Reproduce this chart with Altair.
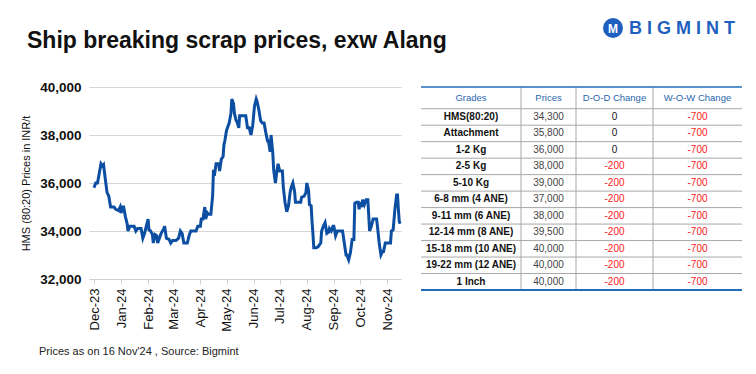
import altair as alt
import pandas as pd

# ---------------- data ----------------
# days since 1 Dec 2023, HMS (80:20) price INR/t
day_offsets = [0, 2, 4, 6, 8, 10, 11, 13, 15, 17, 19, 23, 25, 28, 30, 31, 33, 34, 36, 38,
               39, 41, 44, 46, 48, 50, 54, 56, 58, 60, 62, 63, 65, 67, 68, 70, 72, 73, 75, 77,
               80, 81, 83, 86, 88, 90, 94, 97, 99, 101, 103, 107, 109, 111, 117, 119, 122, 123, 125, 127,
               128, 130, 131, 134, 136, 137, 138, 140, 143, 144, 146, 148, 149, 150, 152, 153, 155, 157, 158, 160,
               161, 163, 164, 166, 167, 170, 174, 176, 178, 180, 182, 184, 186, 187, 189, 191, 193, 195, 197, 199,
               200, 202, 203, 205, 206, 208, 209, 211, 213, 216, 217, 219, 221, 223, 225, 226, 228, 230, 231, 234,
               237, 238, 241, 243, 244, 246, 247, 249, 250, 251, 252, 255, 257, 260, 261, 263, 265, 267, 269, 270,
               272, 274, 275, 277, 279, 282, 285, 287, 289, 290, 292, 294, 296, 298, 299, 301, 303, 304, 305, 307,
               308, 310, 312, 314, 316, 318, 320, 324, 325, 327, 329, 331, 332, 334, 340, 341, 343, 345, 347, 348,
               349, 350, 351]
hms_prices = [35800, 36000, 36000, 36400, 36800, 36700, 36750, 36150, 35600, 35450, 35000, 35000, 34900, 34850, 35000, 34750, 35000, 35000, 34600, 34300,
              34000, 34200, 34200, 34200, 34000, 34100, 34100, 33700, 33900, 34200, 34500, 34050, 34000, 33850, 33500, 33850, 33800, 33500, 33700, 33900,
              34100, 34200, 33700, 33650, 33500, 33600, 33600, 33700, 34000, 33900, 33500, 33500, 33800, 34000, 34000, 34200, 34200, 34500, 34500, 35000,
              34500, 34750, 34700, 34700, 35450, 36550, 36300, 36800, 36800, 36500, 37000, 37100, 37600, 37750, 38200, 38300, 38500, 38900, 39500, 39300,
              38900, 38600, 38550, 38300, 38800, 38800, 38800, 38300, 38300, 38000, 38400, 39200, 39500, 39400, 39050, 38600, 38500, 38500, 38100, 37750,
              37750, 37300, 38000, 37250, 36550, 36000, 36300, 36800, 36500, 36500, 35850, 35200, 34800, 35050, 35650, 35800, 36000, 35650, 35200, 35200,
              35200, 35400, 35450, 35600, 36000, 35700, 35100, 35050, 34400, 33900, 33300, 33300, 33350, 33500, 34000, 34200, 34350, 33900, 33950, 34100,
              34000, 34200, 34200, 33800, 34000, 34000, 34000, 33500, 33000, 33000, 32800, 33100, 33650, 33650, 35150, 35200, 35200, 34900, 35200, 35000,
              35300, 35100, 35300, 35300, 34000, 34200, 34500, 34500, 34200, 33500, 33000, 33150, 33150, 33500, 33500, 34000, 34050, 34900, 35500, 35500,
              34900, 34400, 34300]

grades = ["HMS(80:20)", "Attachment", "1-2 Kg", "2-5 Kg", "5-10 Kg", "6-8 mm (4 ANE)",
          "9-11 mm (6 ANE)", "12-14 mm (8 ANE)", "15-18 mm (10 ANE)", "19-22 mm (12 ANE)", "1 Inch"]
grade_prices = [34300, 35800, 36000, 38000, 39000, 37000, 38000, 39500, 40000, 40000, 40000]
dod_change = [0, 0, 0, -200, -200, -200, -200, -200, -200, -200, -200]
wow_change = [-700] * 11
table_headers = ["Grades", "Prices", "D-O-D Change", "W-O-W Change"]

y_ticks = [32000, 34000, 36000, 38000, 40000]
title_text = "Ship breaking scrap prices, exw Alang"
y_title = "HMS (80:20) Prices in INR/t"
footnote = "Prices as on 16 Nov'24 , Source: Bigmint"

# ---------------- layout / style ----------------
FONT = "Liberation Sans"
BLUE_LINE = "#0b4ea2"
PLOT_W, PLOT_H = 307, 192
TAB_W, TAB_H = 321, 203
col_edges = [0, 100, 155, 232, 321]
HEADER_H = 21.7
ROW_H = (TAB_H - HEADER_H) / len(grades)

df = pd.DataFrame({
    "date": pd.Timestamp("2023-12-01") + pd.to_timedelta(day_offsets, unit="D"),
    "price": hms_prices,
})

month_ticks = [alt.DateTime(year=2023, month=12, date=1)] + [
    alt.DateTime(year=2024, month=m, date=1) for m in range(1, 12)
]

line = alt.Chart(df).mark_line(color=BLUE_LINE, strokeWidth=3).encode(
    x=alt.X("date:T",
            scale=alt.Scale(domain=[alt.DateTime(year=2023, month=12, date=1),
                                    alt.DateTime(year=2024, month=11, date=17)]),
            axis=alt.Axis(title=None, format="%b-%y", values=month_ticks, labelAngle=-90,
                          labelAlign="right", labelBaseline="middle", labelFontSize=13,
                          labelColor="#111", labelPadding=4, tickSize=5, tickColor="#d0d0d0",
                          domainColor="#d0d0d0", grid=False, labelFont=FONT)),
    y=alt.Y("price:Q", scale=alt.Scale(domain=[32000, 40000], nice=False, zero=False),
            axis=alt.Axis(title=y_title, values=y_ticks, format=",.0f", labelFontSize=13.5,
                          labelFontWeight="bold", labelColor="#111", labelPadding=8,
                          tickSize=5, tickColor="#d0d0d0", domain=False, gridColor="#d6d6d6",
                          titleFontSize=11, titleFontWeight="normal", titleColor="#111",
                          titlePadding=8, labelFont=FONT, titleFont=FONT)),
)

title_layer = alt.Chart(pd.DataFrame({"t": [title_text]})).mark_text(
    align="left", baseline="alphabetic", fontSize=23, fontWeight="bold", color="#111", font=FONT
).encode(x=alt.value(28 - 95), y=alt.value(48 - 87), text="t:N")

foot_layer = alt.Chart(pd.DataFrame({"t": [footnote]})).mark_text(
    align="left", baseline="middle", fontSize=11, color="#222", font=FONT
).encode(x=alt.value(40 - 95), y=alt.value(352 - 87), text="t:N")

left = alt.layer(line, title_layer, foot_layer).properties(width=PLOT_W, height=PLOT_H)

# ---------------- table ----------------
centers = [(col_edges[i] + col_edges[i + 1]) / 2 for i in range(4)]
row_y = [HEADER_H + (i + 0.5) * ROW_H for i in range(len(grades))]

cells = pd.DataFrame({
    "grade": grades,
    "price": [f"{p:,}" for p in grade_prices],
    "dod": dod_change,
    "wow": wow_change,
    "dod_t": [str(v) for v in dod_change],
    "wow_t": [str(v) for v in wow_change],
    "y": row_y,
})
head = pd.DataFrame({"h": table_headers, "x": centers, "y": [HEADER_H / 2] * 4})

xs = alt.Scale(domain=[0, TAB_W], nice=False, zero=False)
ys = alt.Scale(domain=[0, TAB_H], nice=False, zero=False, reverse=True)

def X(field):
    return alt.X(field, scale=xs, axis=None)

def Y(field):
    return alt.Y(field, scale=ys, axis=None)

header_txt = alt.Chart(head).mark_text(fontSize=9.5, color="#2a66ad", font=FONT).encode(
    x=X("x:Q"), y=Y("y:Q"), text="h:N")
grade_txt = alt.Chart(cells).mark_text(fontSize=10, fontWeight="bold", color="#111", font=FONT).encode(
    x=alt.datum(centers[0], scale=xs, axis=None), y=Y("y:Q"), text="grade:N")
price_txt = alt.Chart(cells).mark_text(fontSize=10, color="#444", font=FONT).encode(
    x=alt.datum(centers[1], scale=xs, axis=None), y=Y("y:Q"), text="price:N")
dod_txt = alt.Chart(cells).mark_text(fontSize=10, font=FONT).encode(
    x=alt.datum(centers[2], scale=xs, axis=None), y=Y("y:Q"), text="dod_t:N",
    color=alt.condition("datum.dod < 0", alt.value("#ff2020"), alt.value("#111")))
wow_txt = alt.Chart(cells).mark_text(fontSize=10, font=FONT).encode(
    x=alt.datum(centers[3], scale=xs, axis=None), y=Y("y:Q"), text="wow_t:N",
    color=alt.condition("datum.wow < 0", alt.value("#ff2020"), alt.value("#111")))

h_lines = pd.DataFrame({"y": [HEADER_H + i * ROW_H for i in range(len(grades))]})
v_lines = pd.DataFrame({"x": col_edges[1:-1]})
hl = alt.Chart(h_lines).mark_rule(color="#a8a8a8", strokeWidth=1).encode(
    y=Y("y:Q"), x=alt.datum(0, scale=xs, axis=None), x2=alt.datum(TAB_W))
vl = alt.Chart(v_lines).mark_rule(color="#a8a8a8", strokeWidth=1).encode(
    x=X("x:Q"), y=alt.datum(0, scale=ys, axis=None), y2=alt.datum(TAB_H))
edge = pd.DataFrame({"y": [0, TAB_H], "w": [1.5, 2]})
el = alt.Chart(edge).mark_rule(color="#1f6fb8").encode(
    y=Y("y:Q"), x=alt.datum(0, scale=xs, axis=None), x2=alt.datum(TAB_W),
    strokeWidth=alt.StrokeWidth("w:Q", scale=None))

logo_c = alt.Chart(pd.DataFrame({"a": [1]})).mark_point(
    filled=True, shape="circle", size=400, color="#1f5fbf", opacity=1
).encode(x=alt.value(614 - 422), y=alt.value(26 - 85))
logo_m = alt.Chart(pd.DataFrame({"t": ["M"]})).mark_text(
    fontSize=12, fontWeight="bold", color="white", font=FONT, baseline="middle"
).encode(x=alt.value(614 - 422), y=alt.value(27 - 85), text="t:N")
logo_t = alt.Chart(pd.DataFrame({"t": ["B I G M I N T"]})).mark_text(
    fontSize=18, fontWeight="bold", color="#1f5fbf", font=FONT, align="left", baseline="middle"
).encode(x=alt.value(630 - 422), y=alt.value(27 - 85), text="t:N")

table = alt.layer(hl, vl, el, header_txt, grade_txt, price_txt, dod_txt, wow_txt,
                  logo_c, logo_m, logo_t).properties(width=TAB_W, height=TAB_H)

chart = alt.hconcat(left, table, spacing=20, bounds="flush").properties(
    padding={"left": 12, "top": 10, "right": 0, "bottom": 0},
    background="white",
).configure_view(stroke=None)

chart.save("out.html", embed_options={"renderer": "svg", "actions": False})
